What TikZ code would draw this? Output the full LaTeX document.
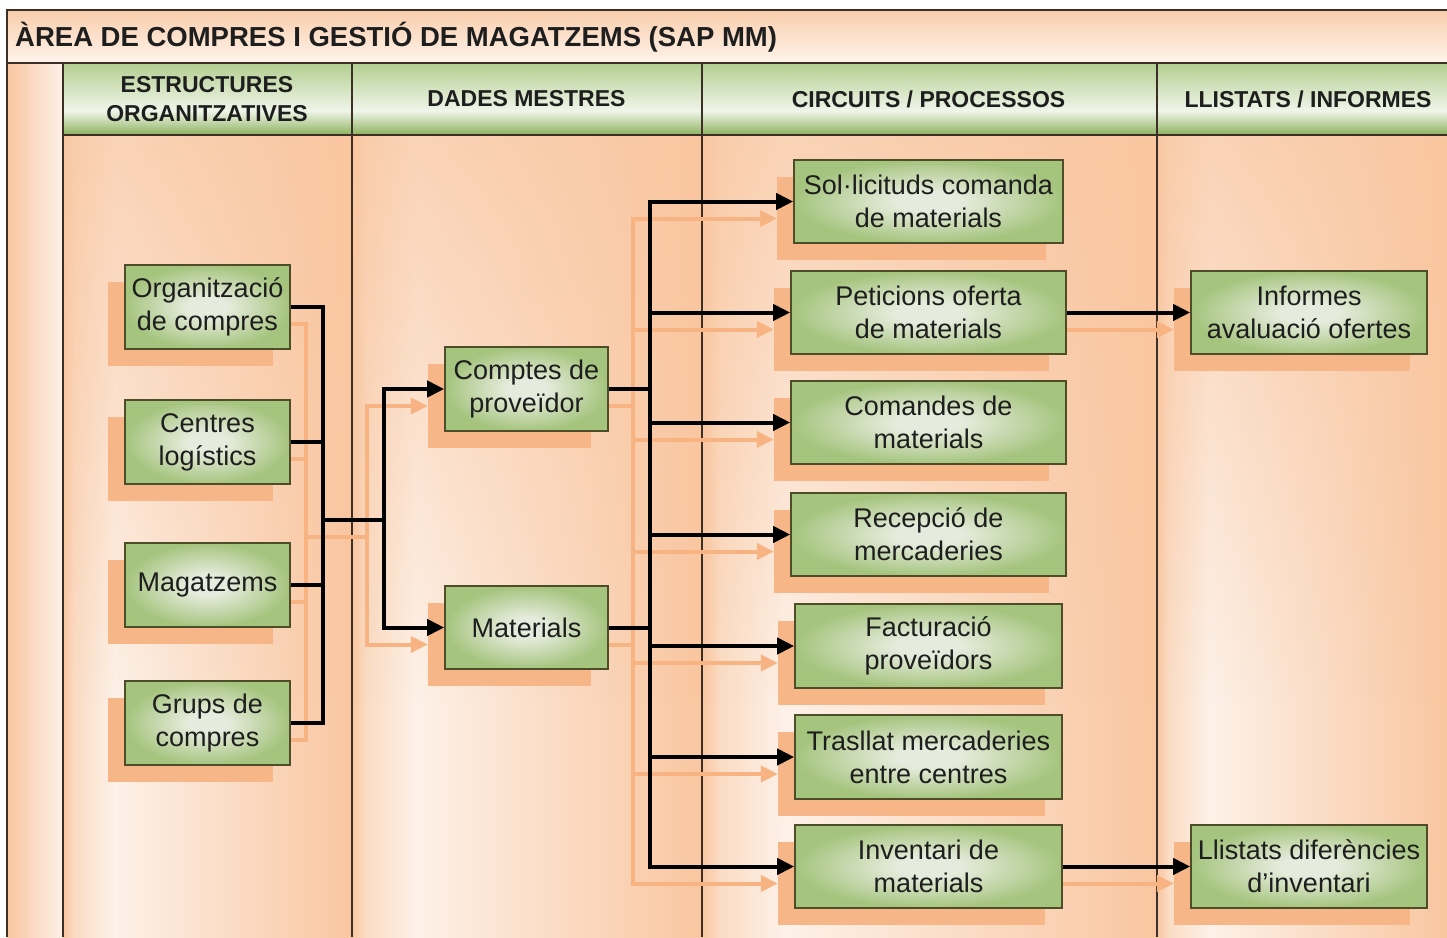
\documentclass[tikz,border=0pt]{standalone}
\usepackage{fontspec}
\setmainfont{Liberation Sans}
\usetikzlibrary{arrows.meta,fadings}
\pgfdeclarelayer{back}
\pgfdeclarelayer{shadow}
\pgfdeclarelayer{conn}
\pgfsetlayers{back,shadow,conn,main}
\definecolor{titletop}{HTML}{F9CDAB}
\definecolor{titlebot}{HTML}{FEF4EC}
\definecolor{peachD}{HTML}{F9C6A0}
\definecolor{peachM}{HTML}{FBDCC4}
\definecolor{peachL}{HTML}{FDF1E8}
\definecolor{hdrtop}{HTML}{B2CE90}
\definecolor{hdrlight}{HTML}{F0F5E9}
\definecolor{hdrbot}{HTML}{8DB25F}
\definecolor{boxin}{HTML}{E6ECDD}
\definecolor{boxout}{HTML}{A5C47E}
\definecolor{boxline}{HTML}{4D4D2A}
\definecolor{shadowc}{HTML}{F6B688}
\definecolor{orgline}{HTML}{F7B482}
\definecolor{frameline}{HTML}{3C3026}
\definecolor{txt}{HTML}{1E1E1E}
\pgfdeclareverticalshading{hdrshade}{100bp}{color(0bp)=(hdrbot); color(25bp)=(hdrbot); color(42bp)=(hdrlight); color(75bp)=(hdrtop); color(100bp)=(hdrtop)}
\pgfdeclarehorizontalshading{colshade}{100bp}{color(0bp)=(peachD); color(25bp)=(peachD); color(27bp)=(peachM); color(34bp)=(peachL); color(75bp)=(peachD); color(100bp)=(peachD)}
\pgfdeclareradialshading{boxshade}{\pgfpoint{0bp}{0bp}}{color(0bp)=(boxin); color(6bp)=(boxin); color(25bp)=(boxout); color(50bp)=(boxout)}
\tikzfading[name=topfade, top color=transparent!0, bottom color=transparent!100]
\newcommand\bxf{\fontsize{27}{33}\selectfont}
\newcommand\hdf{\bfseries\fontsize{23}{29}\selectfont}
\tikzset{
  box/.style={draw=boxline, line width=1.6pt, shade, shading=boxshade,
    align=center, font=\bxf, text=txt, inner sep=0pt},
  shd/.style={fill=shadowc, draw=none, inner sep=0pt},
  blk/.style={draw=black, line width=4pt},
  blka/.style={blk, -{Triangle[length=17pt,width=16pt]}},
  org/.style={draw=orgline, line width=4pt},
  orga/.style={org, -{Triangle[length=17pt,width=16pt]}},
  frame/.style={draw=frameline, line width=1.5pt},
  hdr/.style={font=\hdf, text=txt, align=center, inner sep=0pt}
}
\begin{document}
\begin{tikzpicture}[x=1pt,y=-1pt]
\useasboundingbox (0,0) rectangle (1447,937);
\begin{pgfonlayer}{back}
\fill[white] (0,0) rectangle (1447,937);
\shade[top color=titletop, bottom color=titlebot] (7,10) rectangle (1447,63);
\shade[left color=peachD, right color=peachL] (7,63) rectangle (63,937);
\foreach \a/\b in {63/352,352/702,702/1157,1157/1447}{
  \shade[shading=colshade] (\a,135) rectangle (\b,937);
  \fill[peachD, fill opacity=0.7, path fading=topfade] (\a,135) rectangle (\b,700);
}
\shade[shading=hdrshade] (63,63) rectangle (1447,135);
\draw[frame] (7,937) -- (7,10) -- (1447,10);
\draw[frame] (7,63) -- (1447,63);
\draw[frame] (63,135) -- (1447,135);
\foreach \a in {63,352,702,1157} \draw[frame] (\a,63) -- (\a,937);
\end{pgfonlayer}

\node[anchor=west, font=\bfseries\fontsize{27.5}{30}\selectfont, text=txt, inner sep=0pt] (title) at (15,37) {ÀREA DE COMPRES I GESTIÓ DE MAGATZEMS (SAP MM)};
\node[hdr] (h1) at (207,99) {ESTRUCTURES\\ORGANITZATIVES};
\node[hdr] (h2) at (526.5,99) {DADES MESTRES};
\node[hdr] (h3) at (928.5,99) {CIRCUITS / PROCESSOS};
\node[hdr] (h4) at (1308,99) {LLISTATS / INFORMES};

\foreach \n/\x/\y/\w/\h/\t in {
  org/207.5/307/165/84/{Organització\\de compres},
  cen/207.5/442/165/84/{Centres\\logístics},
  mag/207.5/585/165/84/{Magatzems},
  gru/207.5/723/165/84/{Grups de\\compres},
  cpt/526.5/389/163/84/{Comptes de\\proveïdor},
  mat/526.5/627.5/163/83/{Materials},
  sol/928.5/201.5/269/83/{Sol·licituds comanda\\de materials},
  pet/928.5/312.5/275/83/{Peticions oferta\\de materials},
  com/928.5/422.5/275/83/{Comandes de\\materials},
  rec/928.5/534.5/275/83/{Recepció de\\mercaderies},
  fac/928.5/646/267/84/{Facturació\\proveïdors},
  tra/928.5/757/267/84/{Trasllat mercaderies\\entre centres},
  inv/928.5/866.5/267/83/{Inventari de\\materials},
  inf/1309/312.5/236/83/{Informes\\avaluació ofertes},
  lli/1309/866.5/236/83/{Llistats diferències\\d’inventari}}
{
  \node[box, minimum width=\w pt, minimum height=\h pt] (\n) at (\x,\y) {\t};
  \begin{pgfonlayer}{shadow}
  \node[shd, minimum width=\w pt, minimum height=\h pt] (s\n) at ({\x-17},{\y+17}) {};
  \end{pgfonlayer}
}

\coordinate (b1) at (323,520);
\coordinate (b2) at (384,520);
\coordinate (b3) at (650,389);
\coordinate (ob1) at (306,537);
\coordinate (ob2) at (367,537);
\coordinate (ob3) at (633,406);

\begin{pgfonlayer}{shadow}
\foreach \t in {org,cen,mag,gru} \draw[org] (s\t.east) -| (ob1);
\draw[org] (ob1) -- (ob2);
\draw[orga] (ob2) |- (scpt.west);
\draw[orga] (ob2) |- (smat.west);
\draw[org] (scpt.east) -- (ob3);
\draw[org] (smat.east) -| (ob3);
\foreach \t in {sol,pet,com,rec,fac,tra,inv} \draw[orga] (ob3) |- (s\t.west);
\draw[orga] (spet.east) -- (sinf.west);
\draw[orga] (sinv.east) -- (slli.west);
\end{pgfonlayer}

\begin{pgfonlayer}{conn}
\foreach \t in {org,cen,mag,gru} \draw[blk] (\t.east) -| (b1);
\draw[blk] (b1) -- (b2);
\draw[blka] (b2) |- (cpt.west);
\draw[blka] (b2) |- (mat.west);
\draw[blk] (cpt.east) -- (b3);
\draw[blk] (mat.east) -| (b3);
\foreach \t in {sol,pet,com,rec,fac,tra,inv} \draw[blka] (b3) |- (\t.west);
\draw[blka] (pet.east) -- (inf.west);
\draw[blka] (inv.east) -- (lli.west);
\end{pgfonlayer}
\end{tikzpicture}
\end{document}
